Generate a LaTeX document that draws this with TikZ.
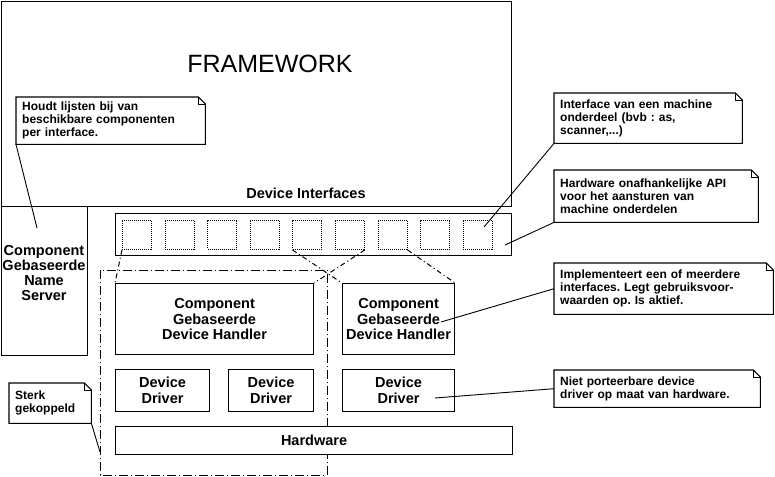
\documentclass[tikz,border=0pt]{standalone}
\usepackage{fontspec}
\newfontfamily\hv{Liberation Sans}
\frenchspacing
\newcommand\dogear[1]{%
  \draw[line width=1.1pt] (#1.south west) -- (#1.north west) -- ([xshift=-7pt]#1.north east) -- ([yshift=-7pt]#1.north east) -- (#1.south east) -- cycle;
  \draw[line width=0.7pt] ([xshift=-7pt]#1.north east) |- ([yshift=-7pt]#1.north east);}
\begin{document}
\frenchspacing
\begin{tikzpicture}[x=1pt,y=-1pt,
  box/.style={draw, line width=1.1pt, fill=white, inner sep=0pt, anchor=north west,
    font=\hv\bfseries\fontsize{14.5}{15.5}\selectfont, align=center},
  note/.style={fill=white, inner xsep=6pt, inner ysep=0pt, anchor=north west,
    font=\hv\bfseries\fontsize{12}{13}\selectfont\frenchspacing, align=left},
  sq/.style={draw, line width=0.9pt, dash pattern=on 1pt off 1pt, inner sep=0pt,
    minimum size=29pt, anchor=north west},
  groupline/.style={line width=1pt, dash pattern=on 9pt off 3pt on 1pt off 3pt},
  realize/.style={line width=1pt, dash pattern=on 5pt off 3pt on 1pt off 3pt},
  conn/.style={line width=0.9pt},
  label/.style={font=\hv\bfseries\fontsize{14.5}{15}\selectfont, align=center, inner sep=0pt}]
\fill[white] (0,0) rectangle (775,476);
\useasboundingbox (0,0) rectangle (775,476);

% framework and name server
\node[box, minimum width=510pt, minimum height=205.4pt] (fw) at (0.6,0.6) {};
\node[font=\hv\fontsize{25}{28}\selectfont, anchor=base, inner sep=0pt] (fwlabel) at (270,73) {FRAMEWORK};
\node[label, anchor=base] (dilabel) at (306,198) {Device Interfaces};
\node[box, minimum width=86.4pt, minimum height=149pt] (ns) at (0.6,206) {};
\node[label] (nslabel) at (44,273) {Component\\Gebaseerde\\Name\\Server};

% group boundary
\coordinate (gtl) at (100,270);
\coordinate (gbr) at (327,475);
\draw[groupline] (gtl) rectangle (gbr);

% interface bar
\node[box, minimum width=396pt, minimum height=42pt] (bar) at (115,213) {};
\foreach \i in {0,...,8}
  \node[sq] (s\i) at ({122+42.6*\i},220) {};

% handlers, drivers, hardware
\node[box, minimum width=198pt, minimum height=71pt] (lh) at (115,283) {Component\\Gebaseerde\\Device Handler};
\node[box, minimum width=112pt, minimum height=71pt] (rh) at (342,283) {Component\\Gebaseerde\\Device Handler};
\node[box, minimum width=94pt, minimum height=42pt] (d1) at (115,369) {Device\\Driver};
\node[box, minimum width=85pt, minimum height=42pt] (d2) at (228,369) {Device\\Driver};
\node[box, minimum width=112pt, minimum height=42pt] (d3) at (342,369) {Device\\Driver};
\node[box, minimum width=397pt, minimum height=28pt] (hw) at (115,426) {Hardware};

% realisation lines
\draw[realize] (s0.south west) -- (lh.north west);
\draw[realize] (s4.south west) -- (rh.north west);
\draw[realize] (s5.south east) -- (lh.north east);
\draw[realize] (s6.south east) -- (rh.north east);

% notes
\node[note, minimum width=189pt, minimum height=47pt, text width=177pt] (n1) at (16,97)
  {Houdt lijsten bij van\\beschikbare componenten\\per interface.};
\dogear{n1}
\node[note, minimum width=188pt, minimum height=50pt, text width=176pt] (n2) at (554,93)
  {Interface van een machine\\onderdeel (bvb : as,\\scanner,...)};
\dogear{n2}
\node[note, minimum width=204pt, minimum height=52pt, text width=192pt] (n3) at (554,170)
  {Hardware onafhankelijke API\\voor het aansturen van\\machine onderdelen};
\dogear{n3}
\node[note, minimum width=219pt, minimum height=51pt, text width=207pt] (n4) at (554,263)
  {Implementeert een of meerdere\\interfaces. Legt gebruiksvoor-\\waarden op. Is aktief.};
\dogear{n4}
\node[note, minimum width=206pt, minimum height=37pt, text width=194pt] (n5) at (554,370)
  {Niet porteerbare device\\driver op maat van hardware.};
\dogear{n5}
\node[note, minimum width=82pt, minimum height=40pt, text width=70pt] (n6) at (9,383)
  {Sterk\\gekoppeld};
\dogear{n6}

% note connectors
\coordinate (c1) at (37,228);
\coordinate (c2) at (484,227);
\coordinate (c3) at (505,245);
\coordinate (c4) at (441,322);
\coordinate (c5) at (435,398);
\coordinate (c6) at (100,452);
\draw[conn] (n1.south west) -- (c1);
\draw[conn] (n2.south west) -- (c2);
\draw[conn] (n3.south west) -- (c3);
\draw[conn] (n4.west) -- (c4);
\draw[conn] (n5.west) -- (c5);
\draw[conn] (n6.south east) -- (c6);
\end{tikzpicture}
\end{document}
